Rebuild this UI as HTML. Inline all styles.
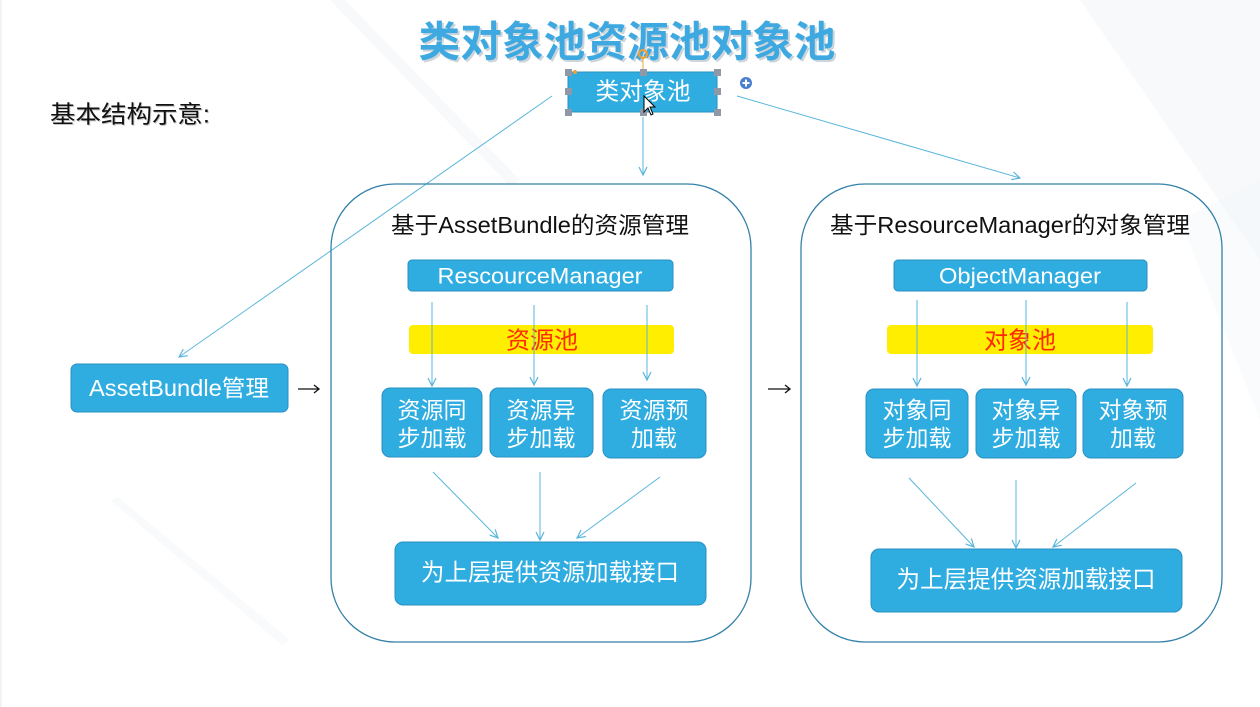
<!DOCTYPE html>
<html>
<head>
<meta charset="utf-8">
<style>
  html,body{margin:0;padding:0;background:#fff;}
  svg{display:block;}
  text{font-family:"Liberation Sans","Noto Sans CJK SC",sans-serif;}
</style>
</head>
<body>
<svg width="1260" height="707" viewBox="0 0 1260 707" xmlns="http://www.w3.org/2000/svg">
  <defs>
    <marker id="ah" markerWidth="12" markerHeight="12" refX="9" refY="5" orient="auto" markerUnits="userSpaceOnUse">
      <path d="M1,1 L9,5 L1,9" fill="none" stroke="#5ab6dc" stroke-width="1.2"/>
    </marker>
  </defs>

  <!-- background -->
  <rect x="0" y="0" width="1260" height="707" fill="#ffffff"/>
  <polygon points="1080,0 1260,0 1260,260" fill="#f3f7fa" opacity="0.7"/>
  <polygon points="1180,220 1260,180 1260,420" fill="#f3f7fa" opacity="0.5"/>
  <polygon points="330,0 345,0 520,180 510,186" fill="#f6f8fa" opacity="0.8"/>
  <polygon points="110,500 118,497 290,640 282,645" fill="#f7f9fa" opacity="0.8"/>
  <rect x="0" y="0" width="2" height="707" fill="#f0f4f7"/>

  <!-- title -->
  <text x="629" y="44" text-anchor="middle" dominant-baseline="central" font-size="42" font-weight="bold" fill="#cdd4da" textLength="417" lengthAdjust="spacingAndGlyphs">类对象池资源池对象池</text>
  <text x="627" y="42" text-anchor="middle" dominant-baseline="central" font-size="42" font-weight="bold" fill="#3ea9e1" textLength="417" lengthAdjust="spacingAndGlyphs">类对象池资源池对象池</text>

  <!-- 基本结构示意 -->
  <text x="51" y="116" dominant-baseline="central" font-size="24" fill="#c4c4c4" textLength="160" lengthAdjust="spacingAndGlyphs">基本结构示意:</text>
  <text x="50" y="115" dominant-baseline="central" font-size="24" fill="#111111" textLength="160" lengthAdjust="spacingAndGlyphs">基本结构示意:</text>

  <!-- connectors from class object pool -->
  <line x1="552" y1="96" x2="179" y2="357" stroke="#5ab6dc" stroke-width="1" marker-end="url(#ah)"/>
  <line x1="643" y1="117" x2="643" y2="175" stroke="#5ab6dc" stroke-width="1" marker-end="url(#ah)"/>
  <line x1="737" y1="96" x2="1020" y2="178" stroke="#5ab6dc" stroke-width="1" marker-end="url(#ah)"/>

  <!-- class object pool box -->
  <rect x="568" y="72" width="149" height="40" fill="#2fade1" stroke="#2a8fc0" stroke-width="1"/>
  <text x="643" y="92" text-anchor="middle" dominant-baseline="central" font-size="24" fill="#ffffff" textLength="95" lengthAdjust="spacingAndGlyphs">类对象池</text>
  <!-- selection handles -->
  <g fill="#8f98a6">
    <rect x="565" y="69" width="7" height="7"/>
    <rect x="640" y="69" width="7" height="7"/>
    <rect x="714" y="69" width="7" height="7"/>
    <rect x="565" y="88" width="7" height="7"/>
    <rect x="714" y="88" width="7" height="7"/>
    <rect x="565" y="109" width="7" height="7"/>
    <rect x="640" y="109" width="7" height="7"/>
    <rect x="714" y="109" width="7" height="7"/>
  </g>
  <line x1="643" y1="58" x2="643" y2="69" stroke="#f0a030" stroke-width="1"/>
  <circle cx="643" cy="54" r="4" fill="none" stroke="#f0a030" stroke-width="2"/>
  <circle cx="575" cy="72" r="2" fill="#f0a030"/>
  <circle cx="746" cy="83" r="6" fill="#4a7fd0"/>
  <path d="M742.5,83 H749.5 M746,79.5 V86.5" stroke="#fff" stroke-width="2"/>
  <!-- cursor -->
  <path d="M644,96 L644,112 L648,108 L651,115 L653,114 L650,107 L655,107 Z" fill="#ffffff" stroke="#000" stroke-width="1"/>

  <!-- AssetBundle管理 -->
  <rect x="71" y="364" width="217" height="48" rx="6" fill="#2fade1" stroke="#2a8fc0" stroke-width="1"/>
  <text x="179" y="388" text-anchor="middle" dominant-baseline="central" font-size="23" fill="#ffffff" textLength="180" lengthAdjust="spacingAndGlyphs">AssetBundle管理</text>

  <!-- black arrows -->
  <g stroke="#111" stroke-width="1.3" fill="none">
    <path d="M298,389 H319 M314,385 L319,389 L314,393"/>
    <path d="M768,389 H790 M785,385 L790,389 L785,393"/>
  </g>

  <!-- LEFT GROUP -->
  <rect x="331" y="184" width="420" height="458" rx="64" fill="none" stroke="#3381a8" stroke-width="1.3"/>
  <text x="540" y="225" text-anchor="middle" dominant-baseline="central" font-size="23" fill="#111" textLength="298" lengthAdjust="spacingAndGlyphs">基于AssetBundle的资源管理</text>
  <rect x="408" y="260" width="265" height="31" rx="4" fill="#2fade1" stroke="#2a8fc0" stroke-width="1"/>
  <text x="540" y="276" text-anchor="middle" dominant-baseline="central" font-size="22" fill="#ffffff" textLength="205" lengthAdjust="spacingAndGlyphs">RescourceManager</text>
  <rect x="409" y="325" width="265" height="29" rx="4" fill="#ffee00"/>
  <text x="542" y="341" text-anchor="middle" dominant-baseline="central" font-size="24" fill="#ff2a00" textLength="72" lengthAdjust="spacingAndGlyphs">资源池</text>
  <line x1="432" y1="302" x2="432" y2="386" stroke="#5ab6dc" stroke-width="1" marker-end="url(#ah)"/>
  <line x1="534" y1="305" x2="534" y2="385" stroke="#5ab6dc" stroke-width="1" marker-end="url(#ah)"/>
  <line x1="647" y1="305" x2="647" y2="380" stroke="#5ab6dc" stroke-width="1" marker-end="url(#ah)"/>

  <rect x="382" y="388" width="100" height="69" rx="8" fill="#2fade1" stroke="#2a8fc0" stroke-width="1"/>
  <rect x="490" y="388" width="103" height="69" rx="8" fill="#2fade1" stroke="#2a8fc0" stroke-width="1"/>
  <rect x="603" y="389" width="103" height="69" rx="8" fill="#2fade1" stroke="#2a8fc0" stroke-width="1"/>
  <g font-size="23" fill="#ffffff" text-anchor="middle" dominant-baseline="central">
    <text x="432" y="410">资源同</text><text x="432" y="438">步加载</text>
    <text x="541" y="410">资源异</text><text x="541" y="438">步加载</text>
    <text x="654" y="410">资源预</text><text x="654" y="438">加载</text>
  </g>

  <line x1="433" y1="472" x2="498" y2="538" stroke="#5ab6dc" stroke-width="1" marker-end="url(#ah)"/>
  <line x1="540" y1="472" x2="540" y2="540" stroke="#5ab6dc" stroke-width="1" marker-end="url(#ah)"/>
  <line x1="660" y1="477" x2="577" y2="538" stroke="#5ab6dc" stroke-width="1" marker-end="url(#ah)"/>

  <rect x="395" y="542" width="311" height="63" rx="8" fill="#2fade1" stroke="#2a8fc0" stroke-width="1"/>
  <text x="550" y="573" text-anchor="middle" dominant-baseline="central" font-size="24" fill="#ffffff" textLength="258" lengthAdjust="spacingAndGlyphs">为上层提供资源加载接口</text>

  <!-- RIGHT GROUP -->
  <rect x="801" y="184" width="421" height="458" rx="64" fill="none" stroke="#3381a8" stroke-width="1.3"/>
  <text x="1010" y="225" text-anchor="middle" dominant-baseline="central" font-size="23" fill="#111" textLength="360" lengthAdjust="spacingAndGlyphs">基于ResourceManager的对象管理</text>
  <rect x="894" y="260" width="253" height="31" rx="4" fill="#2fade1" stroke="#2a8fc0" stroke-width="1"/>
  <text x="1020" y="276" text-anchor="middle" dominant-baseline="central" font-size="22" fill="#ffffff" textLength="162" lengthAdjust="spacingAndGlyphs">ObjectManager</text>
  <rect x="887" y="325" width="266" height="29" rx="4" fill="#ffee00"/>
  <text x="1020" y="341" text-anchor="middle" dominant-baseline="central" font-size="24" fill="#ff2a00" textLength="72" lengthAdjust="spacingAndGlyphs">对象池</text>
  <line x1="917" y1="300" x2="917" y2="386" stroke="#5ab6dc" stroke-width="1" marker-end="url(#ah)"/>
  <line x1="1026" y1="300" x2="1026" y2="385" stroke="#5ab6dc" stroke-width="1" marker-end="url(#ah)"/>
  <line x1="1127" y1="302" x2="1127" y2="386" stroke="#5ab6dc" stroke-width="1" marker-end="url(#ah)"/>

  <rect x="866" y="389" width="102" height="69" rx="8" fill="#2fade1" stroke="#2a8fc0" stroke-width="1"/>
  <rect x="976" y="389" width="100" height="69" rx="8" fill="#2fade1" stroke="#2a8fc0" stroke-width="1"/>
  <rect x="1083" y="389" width="100" height="69" rx="8" fill="#2fade1" stroke="#2a8fc0" stroke-width="1"/>
  <g font-size="23" fill="#ffffff" text-anchor="middle" dominant-baseline="central">
    <text x="917" y="410">对象同</text><text x="917" y="438">步加载</text>
    <text x="1026" y="410">对象异</text><text x="1026" y="438">步加载</text>
    <text x="1133" y="410">对象预</text><text x="1133" y="438">加载</text>
  </g>

  <line x1="909" y1="478" x2="974" y2="547" stroke="#5ab6dc" stroke-width="1" marker-end="url(#ah)"/>
  <line x1="1016" y1="480" x2="1016" y2="548" stroke="#5ab6dc" stroke-width="1" marker-end="url(#ah)"/>
  <line x1="1136" y1="483" x2="1053" y2="547" stroke="#5ab6dc" stroke-width="1" marker-end="url(#ah)"/>

  <rect x="871" y="549" width="311" height="63" rx="8" fill="#2fade1" stroke="#2a8fc0" stroke-width="1"/>
  <text x="1026" y="580" text-anchor="middle" dominant-baseline="central" font-size="24" fill="#ffffff" textLength="259" lengthAdjust="spacingAndGlyphs">为上层提供资源加载接口</text>
</svg>
</body>
</html>
